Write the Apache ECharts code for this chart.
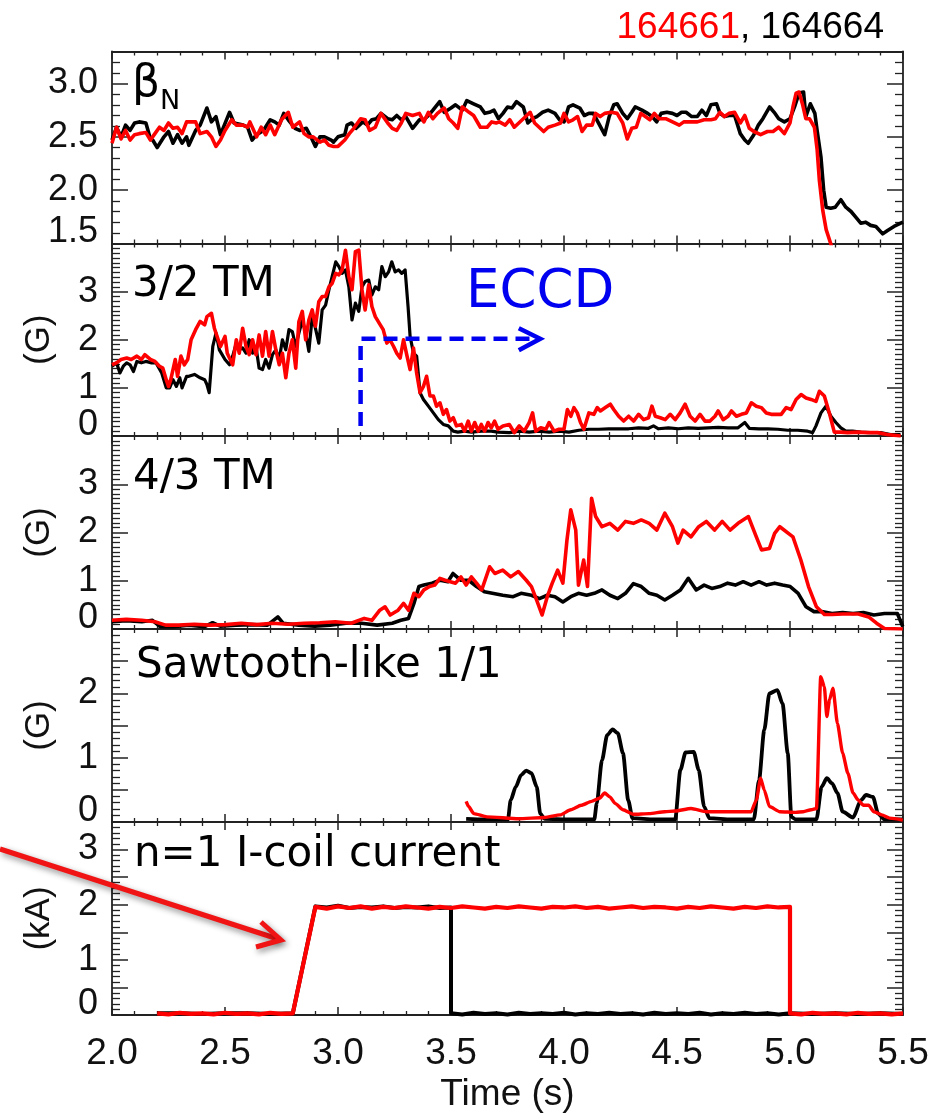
<!DOCTYPE html>
<html><head><meta charset="utf-8">
<script src="https://cdn.jsdelivr.net/npm/echarts/dist/echarts.min.js"></script>
<style>html,body{margin:0;padding:0;background:#fff}#c{width:934px;height:1117px}</style>
</head><body><div id="c"></div><script>
// ---------------- DATA (time [s], value) ----------------
const xTicks = [2.0, 2.5, 3.0, 3.5, 4.0, 4.5, 5.0, 5.5];
const shotRed = '164661';
const shotBlack = '164664';

// Panel 1: beta_N
const betaBlack = [[2.00,2.47],[2.02,2.59],[2.04,2.50],[2.06,2.61],[2.08,2.56],[2.10,2.63],[2.12,2.64],[2.15,2.63],[2.17,2.48],[2.18,2.47],[2.20,2.40],[2.23,2.50],[2.25,2.55],[2.27,2.44],[2.29,2.52],[2.31,2.44],[2.33,2.50],[2.34,2.42],[2.37,2.56],[2.39,2.61],[2.42,2.77],[2.44,2.64],[2.46,2.69],[2.48,2.52],[2.52,2.73],[2.54,2.63],[2.58,2.61],[2.60,2.59],[2.62,2.47],[2.64,2.52],[2.67,2.56],[2.70,2.66],[2.72,2.64],[2.74,2.61],[2.76,2.72],[2.78,2.66],[2.81,2.58],[2.83,2.56],[2.86,2.58],[2.88,2.50],[2.90,2.41],[2.92,2.50],[2.94,2.50],[2.97,2.47],[2.98,2.45],[3.00,2.50],[3.03,2.52],[3.04,2.61],[3.06,2.63],[3.08,2.58],[3.11,2.64],[3.13,2.61],[3.15,2.66],[3.17,2.67],[3.19,2.72],[3.22,2.67],[3.24,2.66],[3.26,2.70],[3.28,2.66],[3.30,2.69],[3.33,2.58],[3.36,2.66],[3.38,2.66],[3.40,2.70],[3.42,2.75],[3.45,2.83],[3.47,2.73],[3.50,2.77],[3.52,2.80],[3.55,2.75],[3.57,2.84],[3.60,2.81],[3.63,2.78],[3.65,2.72],[3.67,2.73],[3.69,2.75],[3.71,2.67],[3.73,2.72],[3.75,2.78],[3.77,2.77],[3.79,2.83],[3.82,2.78],[3.84,2.63],[3.86,2.67],[3.88,2.69],[3.905,2.73],[3.93,2.75],[3.96,2.72],[3.98,2.66],[4.00,2.64],[4.02,2.78],[4.04,2.80],[4.07,2.77],[4.09,2.70],[4.11,2.72],[4.13,2.72],[4.15,2.64],[4.18,2.52],[4.20,2.69],[4.22,2.80],[4.235,2.81],[4.26,2.72],[4.28,2.67],[4.30,2.73],[4.315,2.78],[4.345,2.75],[4.37,2.72],[4.39,2.69],[4.41,2.64],[4.43,2.72],[4.455,2.73],[4.48,2.72],[4.50,2.70],[4.52,2.73],[4.54,2.73],[4.565,2.69],[4.59,2.69],[4.61,2.75],[4.63,2.70],[4.65,2.80],[4.675,2.81],[4.69,2.72],[4.71,2.69],[4.73,2.70],[4.755,2.70],[4.78,2.53],[4.80,2.47],[4.815,2.44],[4.84,2.52],[4.86,2.61],[4.88,2.67],[4.91,2.78],[4.93,2.73],[4.95,2.67],[4.975,2.64],[5.00,2.67],[5.02,2.78],[5.04,2.91],[5.06,2.92],[5.07,2.69],[5.09,2.81],[5.11,2.72],[5.12,2.56],[5.137,2.31],[5.149,2.00],[5.16,1.84],[5.18,1.83],[5.20,1.84],[5.225,1.91],[5.247,1.84],[5.27,1.80],[5.29,1.75],[5.313,1.69],[5.335,1.70],[5.357,1.67],[5.38,1.66],[5.41,1.59],[5.43,1.62],[5.46,1.66],[5.49,1.69],[5.50,1.70]];
const betaRed = [[2.00,2.44],[2.02,2.59],[2.04,2.48],[2.06,2.56],[2.08,2.47],[2.10,2.52],[2.12,2.53],[2.15,2.54],[2.17,2.47],[2.19,2.53],[2.21,2.59],[2.23,2.56],[2.25,2.63],[2.27,2.58],[2.29,2.59],[2.31,2.53],[2.33,2.64],[2.37,2.64],[2.39,2.53],[2.42,2.55],[2.44,2.50],[2.46,2.41],[2.48,2.47],[2.50,2.56],[2.53,2.66],[2.55,2.61],[2.58,2.61],[2.60,2.59],[2.61,2.64],[2.64,2.50],[2.66,2.59],[2.68,2.52],[2.70,2.61],[2.72,2.52],[2.75,2.66],[2.78,2.73],[2.80,2.59],[2.83,2.64],[2.85,2.53],[2.87,2.50],[2.89,2.50],[2.92,2.45],[2.94,2.47],[2.96,2.42],[2.98,2.41],[3.00,2.41],[3.03,2.47],[3.05,2.53],[3.07,2.58],[3.10,2.67],[3.12,2.66],[3.14,2.56],[3.165,2.59],[3.19,2.72],[3.22,2.63],[3.24,2.58],[3.26,2.56],[3.28,2.63],[3.30,2.72],[3.33,2.70],[3.36,2.72],[3.38,2.64],[3.40,2.73],[3.42,2.67],[3.44,2.72],[3.47,2.77],[3.49,2.67],[3.51,2.63],[3.53,2.58],[3.55,2.78],[3.58,2.73],[3.60,2.70],[3.63,2.59],[3.66,2.59],[3.68,2.64],[3.70,2.63],[3.714,2.64],[3.74,2.61],[3.76,2.66],[3.78,2.59],[3.80,2.63],[3.82,2.67],[3.85,2.73],[3.87,2.63],[3.89,2.59],[3.91,2.55],[3.93,2.59],[3.96,2.61],[3.985,2.63],[4.00,2.72],[4.02,2.64],[4.04,2.66],[4.06,2.69],[4.08,2.55],[4.10,2.61],[4.125,2.61],[4.14,2.72],[4.16,2.69],[4.18,2.72],[4.21,2.73],[4.235,2.72],[4.26,2.63],[4.28,2.48],[4.30,2.58],[4.32,2.59],[4.34,2.72],[4.36,2.69],[4.38,2.66],[4.40,2.72],[4.42,2.67],[4.45,2.67],[4.48,2.64],[4.51,2.61],[4.53,2.64],[4.56,2.64],[4.59,2.64],[4.62,2.66],[4.65,2.66],[4.67,2.67],[4.69,2.73],[4.71,2.69],[4.73,2.72],[4.755,2.73],[4.78,2.63],[4.80,2.70],[4.82,2.58],[4.84,2.55],[4.87,2.52],[4.90,2.55],[4.925,2.55],[4.95,2.59],[4.975,2.53],[5.00,2.63],[5.013,2.78],[5.027,2.91],[5.04,2.92],[5.056,2.80],[5.07,2.67],[5.086,2.67],[5.108,2.59],[5.12,2.38],[5.13,2.09],[5.145,1.81],[5.16,1.63],[5.18,1.50],[5.195,1.37]];

// Panel 2: 3/2 TM (G)
const tm32Black = [[2.00,1.45],[2.02,1.52],[2.035,1.31],[2.05,1.45],[2.065,1.52],[2.08,1.48],[2.095,1.34],[2.11,1.55],[2.13,1.52],[2.15,1.55],[2.175,1.52],[2.195,1.52],[2.22,1.31],[2.24,1.00],[2.255,1.00],[2.27,1.17],[2.285,1.03],[2.30,1.21],[2.31,1.00],[2.33,1.24],[2.34,1.24],[2.365,1.28],[2.39,1.21],[2.41,1.17],[2.42,1.07],[2.43,0.90],[2.446,1.86],[2.46,2.14],[2.475,1.79],[2.50,1.59],[2.52,1.48],[2.534,1.66],[2.55,1.93],[2.563,1.79],[2.578,1.83],[2.593,1.72],[2.607,2.00],[2.622,1.72],[2.637,1.86],[2.651,1.41],[2.666,1.38],[2.68,1.59],[2.695,1.41],[2.71,1.69],[2.725,1.79],[2.74,1.59],[2.754,2.00],[2.769,1.79],[2.783,2.21],[2.798,2.17],[2.813,1.86],[2.827,2.14],[2.842,2.41],[2.857,2.14],[2.871,1.76],[2.886,2.48],[2.90,2.24],[2.915,1.93],[2.93,2.62],[2.945,2.72],[2.96,3.04],[2.974,3.31],[2.99,3.62],[3.004,3.52],[3.018,3.38],[3.033,3.45],[3.048,3.10],[3.062,2.41],[3.077,2.76],[3.092,2.59],[3.106,3.10],[3.12,3.21],[3.136,3.24],[3.15,2.93],[3.165,3.10],[3.18,3.04],[3.194,3.52],[3.209,3.31],[3.224,3.41],[3.238,3.62],[3.253,3.41],[3.268,3.45],[3.282,3.38],[3.297,3.45],[3.31,2.69],[3.319,2.07],[3.334,1.72],[3.348,1.66],[3.363,0.90],[3.378,0.76],[3.40,0.62],[3.422,0.48],[3.444,0.34],[3.466,0.24],[3.488,0.21],[3.51,0.10],[3.53,0.08],[3.56,0.10],[3.59,0.08],[3.634,0.10],[3.678,0.10],[3.708,0.08],[3.758,0.07],[3.802,0.10],[3.846,0.08],[3.89,0.10],[3.934,0.08],[3.978,0.10],[4.022,0.08],[4.066,0.12],[4.11,0.14],[4.154,0.14],[4.198,0.15],[4.242,0.15],[4.286,0.15],[4.33,0.17],[4.374,0.16],[4.396,0.21],[4.418,0.15],[4.462,0.17],[4.506,0.15],[4.55,0.17],[4.594,0.16],[4.638,0.17],[4.682,0.18],[4.726,0.17],[4.77,0.17],[4.80,0.28],[4.82,0.16],[4.862,0.15],[4.902,0.15],[4.946,0.14],[4.99,0.12],[5.034,0.12],[5.078,0.10],[5.10,0.07],[5.115,0.21],[5.137,0.48],[5.159,0.62],[5.181,0.41],[5.203,0.28],[5.225,0.17],[5.247,0.10],[5.277,0.10],[5.313,0.08],[5.357,0.07],[5.401,0.07],[5.445,0.03],[5.489,0.03]];
const tm32Red = [[2.00,1.48],[2.02,1.52],[2.04,1.59],[2.065,1.62],[2.085,1.59],[2.11,1.66],[2.13,1.59],[2.145,1.69],[2.17,1.59],[2.19,1.55],[2.21,1.45],[2.225,1.41],[2.24,1.17],[2.25,1.03],[2.26,1.17],[2.28,1.59],[2.29,1.24],[2.305,1.66],[2.32,1.48],[2.335,1.59],[2.35,2.00],[2.37,2.21],[2.39,2.38],[2.41,2.31],[2.42,2.48],[2.44,2.55],[2.453,2.24],[2.47,2.00],[2.48,1.86],[2.50,2.07],[2.51,1.72],[2.534,1.48],[2.55,2.00],[2.563,1.72],[2.578,2.24],[2.593,1.86],[2.607,1.69],[2.622,2.00],[2.637,1.69],[2.651,2.10],[2.666,1.66],[2.68,2.17],[2.695,1.66],[2.71,2.17],[2.725,1.79],[2.74,1.48],[2.754,1.72],[2.769,1.21],[2.783,1.72],[2.798,2.00],[2.813,1.41],[2.827,2.38],[2.842,2.59],[2.857,2.00],[2.871,2.41],[2.886,2.62],[2.90,2.28],[2.915,2.79],[2.93,2.90],[2.945,2.90],[2.96,3.10],[2.974,3.17],[2.99,3.38],[3.004,3.35],[3.018,3.45],[3.033,3.86],[3.048,3.31],[3.062,3.04],[3.077,3.83],[3.092,3.86],[3.106,3.04],[3.12,2.62],[3.136,3.14],[3.15,2.69],[3.165,2.48],[3.187,2.31],[3.20,2.21],[3.216,1.93],[3.23,2.00],[3.246,1.86],[3.26,1.72],[3.275,1.62],[3.29,2.00],[3.304,1.69],[3.319,1.38],[3.334,1.83],[3.348,1.31],[3.363,0.90],[3.378,1.03],[3.392,1.24],[3.407,0.83],[3.422,0.83],[3.436,0.62],[3.451,0.69],[3.466,0.45],[3.48,0.55],[3.495,0.31],[3.51,0.38],[3.524,0.21],[3.546,0.24],[3.56,0.10],[3.576,0.31],[3.59,0.10],[3.605,0.28],[3.62,0.10],[3.634,0.24],[3.649,0.10],[3.664,0.28],[3.678,0.17],[3.693,0.31],[3.708,0.14],[3.73,0.21],[3.758,0.24],[3.78,0.07],[3.802,0.21],[3.824,0.10],[3.846,0.28],[3.861,0.48],[3.875,0.10],[3.897,0.17],[3.92,0.14],[3.934,0.28],[3.956,0.10],[3.978,0.14],[4.00,0.14],[4.015,0.55],[4.03,0.41],[4.044,0.59],[4.059,0.48],[4.073,0.28],[4.088,0.14],[4.11,0.48],[4.132,0.45],[4.147,0.59],[4.161,0.52],[4.183,0.59],[4.205,0.66],[4.22,0.55],[4.242,0.41],[4.264,0.31],[4.286,0.41],[4.308,0.31],[4.33,0.45],[4.352,0.34],[4.374,0.38],[4.389,0.62],[4.404,0.41],[4.426,0.38],[4.448,0.34],[4.47,0.45],[4.492,0.34],[4.514,0.48],[4.536,0.66],[4.558,0.41],[4.58,0.31],[4.602,0.45],[4.624,0.31],[4.646,0.31],[4.668,0.41],[4.682,0.52],[4.704,0.34],[4.726,0.41],[4.741,0.52],[4.763,0.41],[4.785,0.45],[4.807,0.48],[4.829,0.69],[4.851,0.62],[4.873,0.59],[4.895,0.48],[4.917,0.45],[4.939,0.45],[4.961,0.45],[4.983,0.59],[5.005,0.55],[5.027,0.76],[5.049,0.86],[5.071,0.79],[5.093,0.76],[5.115,0.72],[5.13,0.93],[5.152,0.83],[5.174,0.48],[5.196,0.08],[5.225,0.08],[5.255,0.07],[5.30,0.08],[5.342,0.07],[5.387,0.07],[5.43,0.03],[5.49,0.00]];

// ECCD annotation (time, G)
const eccdPath = [[3.10,0.21],[3.10,2.02],[3.86,2.02]];
const eccdHead = [[3.80,2.24],[3.895,2.02],[3.80,1.78]];

// Panel 3: 4/3 TM (G)
const tm43Black = [[2.00,0.15],[2.063,0.17],[2.132,0.15],[2.179,0.18],[2.213,0.05],[2.271,0.05],[2.34,0.08],[2.41,0.05],[2.445,0.13],[2.479,0.06],[2.549,0.08],[2.618,0.09],[2.688,0.08],[2.734,0.25],[2.757,0.12],[2.826,0.08],[2.896,0.06],[2.965,0.08],[3.035,0.12],[3.104,0.12],[3.173,0.08],[3.24,0.12],[3.278,0.18],[3.312,0.22],[3.336,0.53],[3.358,0.88],[3.38,0.91],[3.416,0.95],[3.451,1.01],[3.486,0.98],[3.509,1.15],[3.544,1.01],[3.578,1.01],[3.613,0.88],[3.648,0.77],[3.683,0.74],[3.729,0.70],[3.775,0.67],[3.81,0.74],[3.856,0.70],[3.891,0.63],[3.926,0.70],[3.96,0.67],[3.995,0.56],[4.03,0.67],[4.064,0.74],[4.10,0.70],[4.134,0.74],[4.168,0.81],[4.203,0.70],[4.238,0.63],[4.272,0.74],[4.307,0.94],[4.342,0.88],[4.377,0.74],[4.411,0.70],[4.446,0.60],[4.48,0.70],[4.515,0.81],[4.55,1.05],[4.585,0.81],[4.62,0.91],[4.654,0.84],[4.689,0.88],[4.724,0.95],[4.758,0.91],[4.793,0.98],[4.828,0.91],[4.863,0.98],[4.897,0.91],[4.932,0.95],[4.967,0.91],[5.001,0.88],[5.036,0.74],[5.071,0.46],[5.106,0.36],[5.14,0.36],[5.186,0.32],[5.233,0.34],[5.279,0.32],[5.325,0.34],[5.371,0.29],[5.418,0.32],[5.475,0.32],[5.499,0.05]];
const tm43Red = [[2.00,0.18],[2.063,0.20],[2.132,0.18],[2.19,0.15],[2.237,0.08],[2.294,0.08],[2.364,0.10],[2.433,0.08],[2.503,0.09],[2.572,0.12],[2.641,0.09],[2.71,0.12],[2.78,0.10],[2.85,0.12],[2.919,0.13],[2.988,0.15],[3.058,0.12],[3.116,0.22],[3.15,0.18],[3.185,0.39],[3.208,0.46],[3.231,0.29],[3.266,0.39],[3.29,0.53],[3.312,0.39],[3.336,0.74],[3.358,0.67],[3.38,0.81],[3.405,0.88],[3.428,0.91],[3.451,1.05],[3.474,1.01],[3.497,0.98],[3.52,0.95],[3.544,1.08],[3.567,0.91],[3.59,1.08],[3.613,0.95],[3.636,0.81],[3.671,1.29],[3.694,1.15],[3.729,1.22],[3.764,1.08],[3.798,1.19],[3.833,1.01],[3.856,0.88],[3.879,0.60],[3.903,0.29],[3.926,0.67],[3.948,0.95],[3.972,1.22],[3.995,0.95],[4.013,1.84],[4.03,2.47],[4.052,2.05],[4.064,0.91],[4.087,1.43],[4.104,0.88],[4.122,2.71],[4.14,2.33],[4.168,2.12],[4.203,2.19],[4.238,2.05],[4.272,2.23],[4.307,2.19],[4.342,2.26],[4.377,2.19],[4.411,2.05],[4.446,2.40],[4.48,2.12],[4.504,1.78],[4.527,2.05],[4.562,1.91],[4.596,2.12],[4.63,2.23],[4.666,2.05],[4.70,2.23],[4.735,2.05],[4.77,2.19],[4.816,2.33],[4.851,1.91],[4.874,1.64],[4.909,1.67],[4.932,1.98],[4.955,2.12],[5.013,1.91],[5.048,1.43],[5.082,0.88],[5.117,0.46],[5.152,0.30],[5.186,0.30],[5.233,0.31],[5.302,0.31],[5.348,0.25],[5.383,0.12],[5.418,0.01],[5.499,0.00]];

// Panel 4: sawtooth-like 1/1 (G)
const sawBlack = [[3.567,0.05],[3.65,0.04],[3.752,0.04],[3.764,0.34],[3.787,0.55],[3.81,0.73],[3.833,0.80],[3.856,0.76],[3.879,0.55],[3.895,0.13],[3.914,0.05],[4.03,0.04],[4.134,0.04],[4.145,0.29],[4.168,0.96],[4.191,1.35],[4.215,1.44],[4.238,1.38],[4.261,1.07],[4.284,0.34],[4.303,0.06],[4.40,0.04],[4.492,0.04],[4.515,0.81],[4.538,1.08],[4.574,1.09],[4.596,0.81],[4.62,0.24],[4.643,0.06],[4.74,0.04],[4.84,0.04],[4.863,0.65],[4.886,1.43],[4.909,2.00],[4.944,2.05],[4.967,1.84],[4.99,1.07],[5.006,0.08],[5.025,0.04],[5.117,0.04],[5.14,0.55],[5.163,0.68],[5.186,0.60],[5.21,0.45],[5.233,0.16],[5.279,0.07],[5.314,0.34],[5.337,0.42],[5.367,0.39],[5.39,0.13],[5.418,0.04],[5.499,0.04]];
const sawRed = [[3.567,0.32],[3.578,0.24],[3.601,0.13],[3.659,0.08],[3.798,0.05],[3.914,0.07],[3.983,0.11],[4.03,0.19],[4.076,0.26],[4.122,0.32],[4.157,0.37],[4.18,0.45],[4.203,0.39],[4.226,0.29],[4.261,0.19],[4.307,0.12],[4.377,0.13],[4.446,0.16],[4.492,0.17],[4.562,0.21],[4.631,0.16],[4.70,0.16],[4.77,0.16],[4.828,0.16],[4.851,0.34],[4.87,0.68],[4.886,0.50],[4.909,0.24],[4.955,0.16],[5.025,0.15],[5.059,0.16],[5.094,0.19],[5.117,0.21],[5.136,2.26],[5.152,2.10],[5.163,1.64],[5.175,1.90],[5.19,2.08],[5.21,1.53],[5.233,1.07],[5.256,0.76],[5.279,0.45],[5.302,0.34],[5.325,0.26],[5.348,0.26],[5.371,0.16],[5.406,0.11],[5.441,0.06],[5.499,0.03]];

// Panel 5: n=1 I-coil current (kA)
const coilBlack = [[2.20,0.03],[2.30,0.03],[2.40,0.02],[2.50,0.03],[2.60,0.03],[2.70,0.02],[2.80,0.03],[2.90,1.97],[2.95,1.95],[3.00,1.98],[3.05,1.94],[3.10,1.96],[3.15,1.95],[3.20,1.97],[3.25,1.94],[3.30,1.96],[3.35,1.95],[3.40,1.97],[3.45,1.94],[3.50,1.95],[3.50,0.03],[3.55,0.01],[3.60,0.04],[3.65,0.02],[3.70,0.03],[3.75,0.01],[3.80,0.04],[3.85,0.02],[3.90,0.03],[3.95,0.02],[4.00,0.04],[4.05,0.01],[4.10,0.03],[4.15,0.02],[4.20,0.04],[4.25,0.02],[4.30,0.03],[4.35,0.01],[4.40,0.04],[4.45,0.02],[4.50,0.03],[4.55,0.02],[4.60,0.04],[4.65,0.01],[4.70,0.03],[4.75,0.02],[4.80,0.04],[4.85,0.02],[4.90,0.03],[4.95,0.01],[5.00,0.03],[5.10,0.02],[5.20,0.03],[5.30,0.02],[5.40,0.03],[5.50,0.02]];
const coilRed = [[2.20,0.03],[2.25,0.01],[2.30,0.04],[2.35,0.02],[2.40,0.03],[2.45,0.01],[2.50,0.04],[2.55,0.02],[2.60,0.03],[2.65,0.01],[2.70,0.04],[2.75,0.02],[2.80,0.03],[2.90,1.96],[2.95,1.93],[3.00,1.97],[3.05,1.94],[3.10,1.97],[3.15,1.93],[3.20,1.96],[3.25,1.94],[3.30,1.97],[3.35,1.95],[3.40,1.93],[3.45,1.96],[3.50,1.94],[3.55,1.97],[3.60,1.95],[3.65,1.93],[3.70,1.96],[3.75,1.94],[3.80,1.97],[3.85,1.95],[3.90,1.93],[3.95,1.96],[4.00,1.95],[4.05,1.97],[4.10,1.94],[4.15,1.96],[4.20,1.93],[4.25,1.95],[4.30,1.97],[4.35,1.94],[4.40,1.96],[4.45,1.95],[4.50,1.93],[4.55,1.96],[4.60,1.94],[4.65,1.97],[4.70,1.95],[4.75,1.93],[4.80,1.96],[4.85,1.94],[4.90,1.97],[4.95,1.95],[5.00,1.96],[5.00,0.03],[5.05,0.01],[5.10,0.04],[5.15,0.02],[5.20,0.03],[5.25,0.01],[5.30,0.04],[5.35,0.02],[5.40,0.03],[5.45,0.01],[5.50,0.03]];

// ---------------- LAYOUT ----------------
const TICK_FONT = "'Liberation Sans', Arial, Helvetica, sans-serif";
const LABEL_FONT = "'DejaVu Sans', 'Liberation Sans', sans-serif";
const AX = '#222';
const panels = [
  {top: 51.5, height: 192, min: 1.5, max: 3.3, interval: 0.5, minor: 5, name: '', dec: 1},
  {top: 243.5, height: 192.5, min: 0, max: 4, interval: 1, minor: 10, name: '(G)', dec: 0},
  {top: 436, height: 193, min: 0, max: 4, interval: 1, minor: 10, name: '(G)', dec: 0},
  {top: 629, height: 193, min: 0, max: 3, interval: 0.5, minor: 5, name: '(G)', dec: 0},
  {top: 822, height: 193, min: 0, max: 3.5, interval: 0.5, minor: 5, name: '(kA)', dec: 0}
];

const grids = [], xAxes = [], yAxes = [];
panels.forEach((p, i) => {
  grids.push({left: 112, right: 31, top: p.top, height: p.height, show: false});
  ['bottom', 'top'].forEach(pos => {
    const showLab = (i === 4 && pos === 'bottom');
    xAxes.push({
      type: 'value', gridIndex: i, position: pos, min: 2, max: 5.5, interval: 0.5,
      axisLine: {show: true, onZero: false, lineStyle: {color: AX, width: 1.8}},
      axisTick: {show: true, inside: true, length: 8, lineStyle: {color: AX, width: 1.5}},
      minorTick: {show: true, splitNumber: 5, length: 4, lineStyle: {color: AX, width: 1.3}},
      splitLine: {show: false}, minorSplitLine: {show: false},
      axisLabel: {show: showLab, margin: 20, fontSize: 37, fontFamily: TICK_FONT, color: '#111',
        formatter: v => xTicks.indexOf(v) >= 0 ? v.toFixed(1) : ''},
      name: showLab ? 'Time (s)' : '', nameLocation: 'middle', nameGap: 61,
      nameTextStyle: {fontSize: 37, fontFamily: TICK_FONT, color: '#111'}
    });
  });
  ['left', 'right'].forEach(pos => {
    const left = pos === 'left';
    yAxes.push({
      type: 'value', gridIndex: i, position: pos, min: p.min, max: p.max, interval: p.interval,
      axisLine: {show: true, onZero: false, lineStyle: {color: AX, width: 1.8}},
      axisTick: {show: true, inside: true, length: 16, lineStyle: {color: AX, width: 1.5}},
      minorTick: {show: true, splitNumber: p.minor, length: 8, lineStyle: {color: AX, width: 1.3}},
      splitLine: {show: false}, minorSplitLine: {show: false},
      axisLabel: {show: left, margin: 14, fontSize: 36, fontFamily: TICK_FONT, color: '#111',
        showMaxLabel: false,
        formatter: v => {
          if (v >= p.max - 1e-6) return '';
          if (p.dec === 0 && Math.abs(v - Math.round(v)) > 1e-6) return '';
          const s = v.toFixed(p.dec);
          return Math.abs(v - p.min) < 1e-6 ? '{lo|' + s + '}' : s;
        },
        rich: {lo: {fontSize: 36, fontFamily: TICK_FONT, color: '#111', padding: [0, 0, 22, 0]}}
      },
      name: left ? p.name : '', nameLocation: 'middle', nameGap: 55,
      nameTextStyle: {fontSize: 35, fontFamily: TICK_FONT, color: '#111'}
    });
  });
});

function line(data, gi, color, width, extra) {
  return Object.assign({
    type: 'line', data: data, xAxisIndex: gi * 2, yAxisIndex: gi * 2,
    showSymbol: false, symbol: 'none', clip: true, silent: true,
    lineStyle: {color: color, width: width, join: 'round'}, itemStyle: {color: color}
  }, extra || {});
}
const BLUE = '#0000f0', RED = '#ff0000', BLACK = '#000000';
const LW = 3.6;
const series = [
  line(betaBlack, 0, BLACK, LW), line(betaRed, 0, RED, LW),
  line(tm32Black, 1, BLACK, 3.2), line(tm32Red, 1, RED, LW),
  line(eccdPath, 1, BLUE, 4.5, {lineStyle: {color: BLUE, width: 4.5, type: [14, 8]}}),
  line(eccdHead, 1, BLUE, 4.5, {lineStyle: {color: BLUE, width: 4.5, join: 'miter'}}),
  line(tm43Black, 2, BLACK, LW), line(tm43Red, 2, RED, LW),
  line(sawBlack, 3, BLACK, 3.8, {smooth: 0.25, smoothMonotone: 'x'}),
  line(sawRed, 3, RED, 3.4, {smooth: 0.2, smoothMonotone: 'x'}),
  line(coilBlack, 4, BLACK, 4), line(coilRed, 4, RED, 4.2)
];

function ttl(text, left, top, size, color, font, right) {
  const t = {text: text, top: top, padding: 0, itemGap: 0,
    textStyle: {fontSize: size, color: color || '#000', fontFamily: font || LABEL_FONT, fontWeight: 'normal'}};
  if (right !== undefined) t.right = right; else t.left = left;
  return t;
}
const titles = [
  ttl(shotRed, 0, 9, 37, RED, TICK_FONT, 194),
  ttl(', ' + shotBlack, 0, 9, 37, '#000', TICK_FONT, 50),
  ttl('β', 132, 63, 44),
  ttl('N', 160, 88, 27),
  ttl('3/2 TM', 132, 264, 42),
  ttl('ECCD', 466, 267, 53, BLUE),
  ttl('4/3 TM', 133, 457, 42),
  ttl('Sawtooth-like 1/1', 136, 645, 42),
  ttl('n=1 I-coil current', 134, 834, 42)
];

const arrowStyle = {stroke: '#f01414', lineWidth: 5, fill: null, lineJoin: 'miter', lineCap: 'butt',
  shadowBlur: 6, shadowColor: 'rgba(0,0,0,0.45)', shadowOffsetX: 2, shadowOffsetY: 3};
const graphic = [
  {type: 'polyline', z: 100, shape: {points: [[0, 849], [278, 939]]}, style: arrowStyle},
  {type: 'polyline', z: 100, shape: {points: [[261, 922], [281, 940], [256, 947]]}, style: arrowStyle}
];

const chart = echarts.init(document.getElementById('c'), null, {renderer: 'canvas'});
chart.setOption({
  animation: false, backgroundColor: '#fff',
  title: titles, grid: grids, xAxis: xAxes, yAxis: yAxes, series: series, graphic: graphic
});
</script></body></html>
